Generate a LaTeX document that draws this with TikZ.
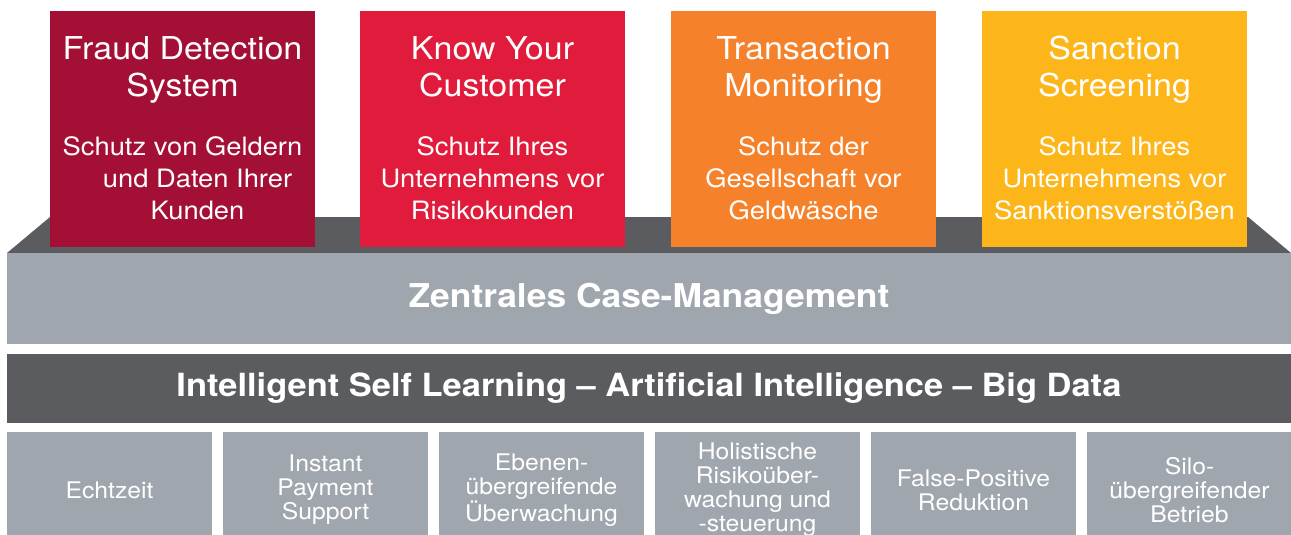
\documentclass[tikz,border=0pt]{standalone}
\usepackage{fontspec}
\setmainfont{TeX Gyre Heros}[FakeStretch=1.08]
\usetikzlibrary{positioning}

\definecolor{fraudred}{HTML}{A30F35}
\definecolor{kycred}{HTML}{E11B3B}
\definecolor{tmorange}{HTML}{F5822A}
\definecolor{ssyellow}{HTML}{FDB619}
\definecolor{darkgrey}{HTML}{5B5C5F}
\definecolor{lightgrey}{HTML}{A0A6AE}

\begin{document}
\begin{tikzpicture}[x=1pt,y=-1pt]
		\tikzset{pillar/.style = {shape=rectangle,inner sep=0pt,minimum width=265pt,minimum height=236pt}}
		\tikzset{ptitle/.style = {anchor=north,align=center,text=white,inner sep=0pt,font=\fontsize{31.5}{37}\selectfont}}
		\tikzset{ptext/.style = {anchor=north,align=center,text=white,inner sep=0pt,font=\fontsize{25.3}{32}\selectfont}}
		\tikzset{band/.style = {shape=rectangle,inner sep=0pt,minimum width=1284pt,text=white}}
		\tikzset{tile/.style = {shape=rectangle,fill=lightgrey,inner sep=0pt,minimum width=205pt,minimum height=116pt,align=center,text=white,font=\fontsize{22.9}{24}\selectfont}}

		\useasboundingbox (0, 0) rectangle (1291, 535);
		\clip (0, 0) rectangle (1291, 535);

		% platform
		\fill[darkgrey] (50, 217) -- (1248, 217) -- (1291, 253) -- (7, 253) -- cycle;
		\node[band, fill=lightgrey, minimum height=91pt, font=\bfseries\fontsize{32.8}{38}\selectfont] (cm) at (649, 298.5){Zentrales Case-Management};

		% pillars
		\node[pillar, fill=fraudred] (fds) at (182.5, 129){};
		\node[ptitle] at (182.5, 33.5){\strut Fraud Detection\\System};
		\node[ptext] at (182.5, 132.6){\strut Schutz von Geldern\\\hspace*{30pt}und Daten Ihrer\\\hspace*{30pt}Kunden};

		\node[pillar, fill=kycred] (kyc) at (492.5, 129){};
		\node[ptitle] at (492.5, 33.5){\strut Know Your\\Customer};
		\node[ptext] at (492.5, 132.6){\strut Schutz Ihres\\Unternehmens vor\\Risikokunden};

		\node[pillar, fill=tmorange] (tm) at (803.5, 129){};
		\node[ptitle] at (803.5, 33.5){\strut Transaction\\Monitoring};
		\node[ptext] at (803.5, 132.6){\strut Schutz der\\Gesellschaft vor\\Geldwäsche};

		\node[pillar, fill=ssyellow] (ss) at (1114.5, 129){};
		\node[ptitle] at (1114.5, 33.5){\strut Sanction\\Screening};
		\node[ptext] at (1114.5, 132.6){\strut Schutz Ihres\\Unternehmens vor\\Sanktionsverstößen};

		% ai band
		\node[band, fill=darkgrey, minimum height=69pt, font=\bfseries\fontsize{31.9}{36}\selectfont] (ai) at (649, 388.5){Intelligent Self Learning – Artificial Intelligence – Big Data};

		% tiles
		\node[tile] (t1) at (109.5, 490){Echtzeit};
		\node[tile] (t2) at (325.5, 490){Instant\\Payment\\Support};
		\node[tile] (t3) at (541.5, 490){Ebenen-\\übergreifende\\Überwachung};
		\node[tile] (t4) at (757.5, 490){Holistische\\Risikoüber-\\wachung und\\-steuerung};
		\node[tile] (t5) at (973.5, 490){False-Positive\\Reduktion};
		\node[tile] (t6) at (1189.5, 490){Silo-\\übergreifender\\Betrieb};
	\end{tikzpicture}
\end{document}
